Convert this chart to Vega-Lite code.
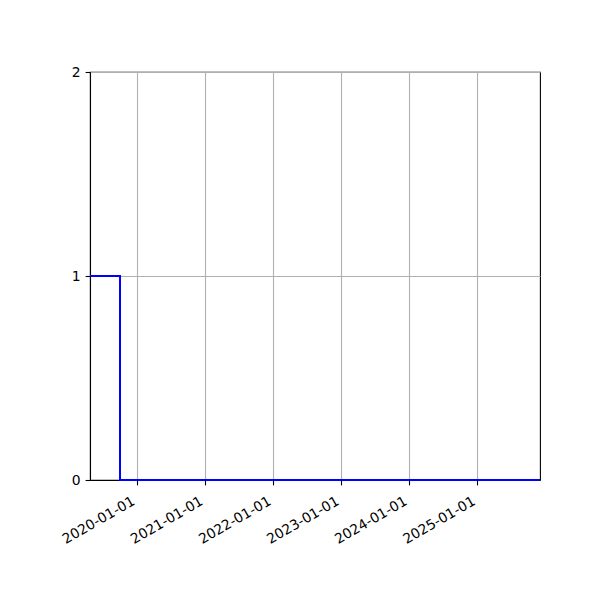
{
  "$schema": "https://vega.github.io/schema/vega-lite/v6.json",
  "width": 450,
  "height": 408,
  "autosize": {"type": "none"},
  "padding": {"left": 90, "top": 72, "right": 60, "bottom": 120},
  "background": "white",
  "config": {
    "view": {"stroke": "black", "strokeWidth": 1.1},
    "font": "DejaVu Sans",
    "axis": {
      "labelFont": "DejaVu Sans",
      "labelFontSize": 13.9,
      "labelColor": "black",
      "domainColor": "black",
      "domainWidth": 1.1,
      "tickColor": "black",
      "tickSize": 4.9,
      "tickWidth": 1.1,
      "gridColor": "#b0b0b0",
      "gridWidth": 1.1,
      "gridOpacity": 1,
      "labelPadding": 4.9
    }
  },
  "data": {
    "values": [
      {"date": "2019-04-25", "value": 1},
      {"date": "2019-10-03", "value": 0},
      {"date": "2025-12-03", "value": 0}
    ]
  },
  "mark": {"type": "line", "interpolate": "step-after", "color": "#0000ff", "strokeWidth": 2, "clip": false},
  "encoding": {
    "x": {
      "field": "date",
      "type": "temporal",
      "title": null,
      "scale": {"type": "utc", "domain": ["2019-04-25", "2025-12-03"], "nice": false},
      "axis": {
        "tickCount": {"interval": "year", "step": 1},
        "labelExpr": "utcFormat(datum.value, '%Y-%m-%d')",
        "labelAngle": -30,
        "labelAlign": "right",
        "labelBaseline": "top",
        "labelOffset": -7,
        "labelPadding": 9,
        "labelOverlap": false,
        "grid": true
      }
    },
    "y": {
      "field": "value",
      "type": "quantitative",
      "title": null,
      "scale": {"domain": [0, 2], "nice": false, "zero": false},
      "axis": {"tickCount": 2, "labelOverlap": false, "grid": true}
    }
  }
}
